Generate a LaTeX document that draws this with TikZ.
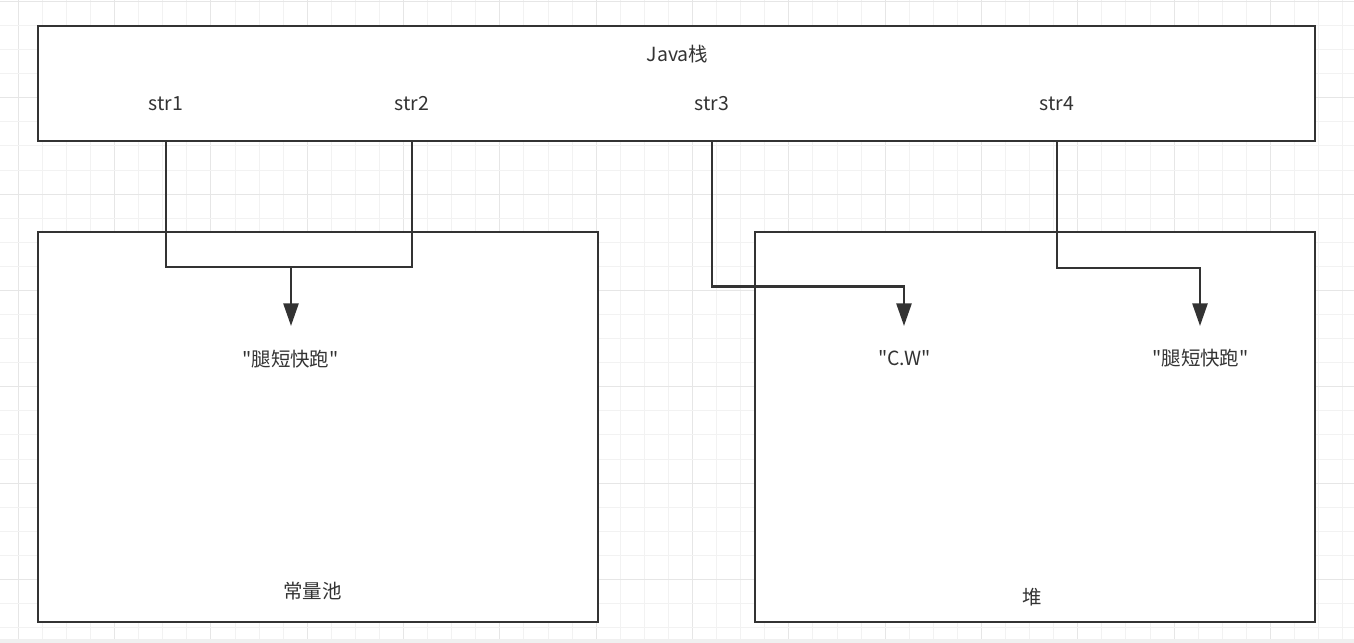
\documentclass[tikz,border=0pt]{standalone}
\usepackage{fontspec}
\setmainfont{Noto Sans CJK SC}[Ligatures=TeXOff]
\usetikzlibrary{arrows.meta}
\definecolor{ink}{HTML}{333333}
\definecolor{gridminor}{HTML}{F2F2F2}
\definecolor{gridmajor}{HTML}{E6E6E6}
\definecolor{band}{HTML}{F0F0F0}
\tikzset{
	area/.style={draw=ink, line width=2pt, fill=white, inner sep=0pt},
	label/.style={text=ink, inner sep=0pt, font=\fontsize{14.6}{17}\selectfont},
	wire/.style={draw=ink, line width=2pt},
	pointer/.style={wire, -{Triangle[width=11.25pt,length=17pt]}}
}
\begin{document}
\begin{tikzpicture}[x=0.75pt, y=-0.75pt]
		\useasboundingbox (0,0) rectangle (1354,643);
		\foreach \k in {-1,...,56} {
			\pgfmathtruncatemacro{\m}{mod(\k+4,4)}
			\ifnum\m=0 \def\gc{gridmajor}\else\def\gc{gridminor}\fi
			\draw [\gc, line width=0.75pt] (18.3+24.08*\k,0) -- (18.3+24.08*\k,643);
		}
		\foreach \k in {0,...,26} {
			\pgfmathtruncatemacro{\m}{mod(\k,4)}
			\ifnum\m=0 \def\gc{gridmajor}\else\def\gc{gridminor}\fi
			\draw [\gc, line width=0.75pt] (0,1.5+24.08*\k) -- (1354,1.5+24.08*\k);
		}
		\fill [band] (0,639) rectangle (1354,643);
		\node [area, minimum width=957.75pt, minimum height=86.25pt] (stack) at (676.5,83.5) {};
		\node [area, minimum width=420pt, minimum height=292.5pt] (pool) at (318,427) {};
		\node [area, minimum width=420pt, minimum height=292.5pt] (heap) at (1035,427) {};
		\node [label] (java) at (677.5,54) {Java栈};
		\node [label] (s1) at (166,104) {str1};
		\node [label] (s2) at (412,104) {str2};
		\node [label] (s3) at (712,104) {str3};
		\node [label] (s4) at (1057,104) {str4};
		\node [label] (v1) at (290.5,359) {"腿短快跑"};
		\node [label] (v2) at (904.5,358.5) {"C.W"};
		\node [label] (v3) at (1200.5,358.5) {"腿短快跑"};
		\node [label] (poolname) at (312.5,591) {常量池};
		\node [label] (heapname) at (1032,597.5) {堆};
		\coordinate (j1) at (291,267);
		\coordinate (k3) at (904,286.5);
		\coordinate (k4) at (1200,268);
		\coordinate (t1) at (291,326);
		\coordinate (t2) at (904,326);
		\coordinate (t3) at (1200,326);
		\draw [wire] (s1 |- stack.south) |- (j1) -| (s2 |- stack.south);
		\draw [pointer] (j1) -- (t1);
		\draw [pointer] (s3 |- stack.south) |- (k3) -- (t2);
		\draw [pointer] (s4 |- stack.south) |- (k4) -- (t3);
\end{tikzpicture}
\end{document}
